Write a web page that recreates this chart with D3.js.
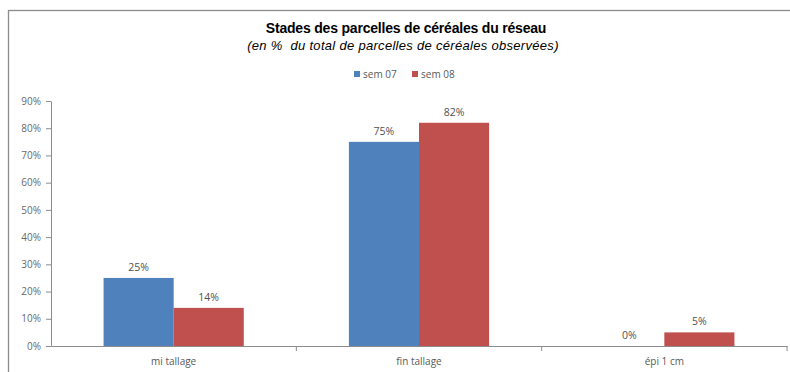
<!DOCTYPE html>
<html><head><meta charset="utf-8">
<script src="https://cdn.jsdelivr.net/npm/d3@7"></script>
<style>body{margin:0;background:#fff}svg{display:block}</style>
</head><body>
<script>
const categories = ["mi tallage", "fin tallage", "épi 1 cm"];
const seriesNames = ["sem 07", "sem 08"];
const sem07 = [25, 75, 0];
const sem08 = [14, 82, 5];
const yTicks = [0,10,20,30,40,50,60,70,80,90];
const colors = ["#4f81bd", "#c0504d"];

(function(){
const W = 790, H = 372;
const svg = d3.select("body").append("svg").attr("width", W).attr("height", H);
svg.append("rect").attr("x",8.5).attr("y",10.5).attr("width",W).attr("height",H)
  .attr("fill","#fff").attr("stroke","#8c8c8c").attr("stroke-width",1.3);

const mLeft = 51, mRight = 787, mTop = 101, mBottom = 346;
const x = d3.scaleBand().domain(categories).range([mLeft, mRight]).paddingInner(0).paddingOuter(0);
const x1 = d3.scaleBand().domain(seriesNames).range([0, x.bandwidth()]).paddingInner(0).paddingOuter(0.75);
const y = d3.scaleLinear().domain([0, 90]).range([mBottom, mTop]);

const font = "'Open Sans', 'DejaVu Sans', sans-serif";
svg.append("text").attr("x",406).attr("y",33).attr("text-anchor","middle")
  .style("font-family","'Liberation Sans', Arial, sans-serif").style("font-weight","bold")
  .style("font-size","14px").style("letter-spacing","-0.2px").attr("fill","#000")
  .text("Stades des parcelles de céréales du réseau");
svg.append("text").attr("x",403).attr("y",50).attr("text-anchor","middle")
  .style("font-family","'Liberation Sans', Arial, sans-serif").style("font-style","italic")
  .style("font-size","13px").style("letter-spacing","0.3px").style("white-space","pre").attr("fill","#000")
  .text("(en %  du total de parcelles de céréales observées)");

const lg = svg.append("g");
const legX = [354, 412];
seriesNames.forEach((s,i)=>{
  lg.append("rect").attr("x",legX[i]).attr("y",71).attr("width",6).attr("height",6).attr("fill",colors[i]);
  lg.append("text").attr("x",legX[i]+9).attr("y",78).style("font-family",font).style("font-size","10px")
    .attr("fill","#595959").text(s);
});

const yAxis = d3.axisLeft(y).tickValues(yTicks).tickFormat(d=>d+"%").tickSize(5).tickSizeOuter(0);
const ya = svg.append("g").attr("transform",`translate(${mLeft},0)`).call(yAxis);
ya.select(".domain").attr("stroke","#8c8c8c");
ya.selectAll(".tick line").attr("stroke","#8c8c8c");
ya.selectAll(".tick text").attr("fill","#6a6a6a").style("font-family",font).style("font-size","10px").attr("x",-10);

const xa = svg.append("g").attr("transform",`translate(0,${mBottom})`)
  .call(d3.axisBottom(x).tickSize(0).tickSizeOuter(0));
xa.select(".domain").attr("stroke","#8c8c8c");
xa.selectAll(".tick text").attr("fill","#595959").style("font-family",font).style("font-size","10px").attr("dy","1.6em");
svg.append("g").selectAll("line").data(categories.map(c=>x(c)+x.bandwidth()))
  .join("line").attr("x1",d=>d).attr("x2",d=>d).attr("y1",mBottom).attr("y2",mBottom+5).attr("stroke","#8c8c8c");

const data = [sem07, sem08];
const g = svg.append("g");
categories.forEach((c,ci)=>{
  data.forEach((vals,si)=>{
    const v = vals[ci];
    const bx = x(c)+x1(seriesNames[si]);
    if (v>0) g.append("rect").attr("x",bx).attr("y",y(v)).attr("width",x1.bandwidth())
      .attr("height",mBottom-y(v)).attr("fill",colors[si]);
    g.append("text").attr("x",bx+x1.bandwidth()/2).attr("y",y(v)-7).attr("text-anchor","middle")
      .style("font-family",font).style("font-size","10.5px").attr("fill","#505050").text(v+"%");
  });
});
})();
</script>
</body></html>
